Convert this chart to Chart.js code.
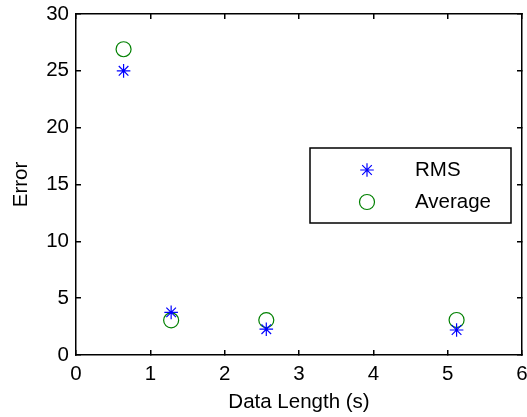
<!DOCTYPE html>
<html><head><meta charset="utf-8">
<script src="https://cdn.jsdelivr.net/npm/chart.js@4"></script>
<style>html,body{margin:0;padding:0;background:#fff}#w{width:527px;height:417px}</style>
</head><body><div id="w"><canvas id="c" width="527" height="417"></canvas></div>
<script>
const dataLength = [0.64, 1.28, 2.56, 5.12];
const rmsError = [25, 3.75, 2.27, 2.2];
const avgError = [26.9, 3.05, 3.07, 3.08];
const xTicks = [0, 1, 2, 3, 4, 5, 6];
const yTicks = [0, 5, 10, 15, 20, 25, 30];
const seriesNames = ['RMS', 'Average'];
const FONT = '"Liberation Sans", Arial, Helvetica, sans-serif';
const FS = 20.5;

const legendBox = {
  id: 'legendBox',
  afterDraw(chart) {
    const ctx = chart.ctx;
    ctx.save();
    const lx = 310, ly = 148, lw = 201, lh = 75;
    ctx.fillStyle = '#ffffff';
    ctx.fillRect(lx, ly, lw, lh);
    ctx.strokeStyle = '#000000';
    ctx.lineWidth = 1.5;
    ctx.strokeRect(lx, ly, lw, lh);
    ctx.font = FS + 'px ' + FONT;
    ctx.textBaseline = 'middle';
    ctx.textAlign = 'left';
    chart.data.datasets.forEach((ds, i) => {
      const cy = 170 + i * 32;
      ctx.save();
      ctx.fillStyle = 'rgba(0,0,0,0)';
      ctx.strokeStyle = ds.borderColor;
      ctx.lineWidth = ds.pointBorderWidth;
      Chart.helpers.drawPoint(ctx, {pointStyle: ds.pointStyle, radius: ds.pointRadius, borderWidth: ds.pointBorderWidth, rotation: 0}, 367, cy);
      ctx.restore();
      ctx.fillStyle = '#000000';
      ctx.fillText(seriesNames[i], 415, cy);
    });
    ctx.restore();
  }
};

const inwardGrid = {display: true, drawOnChartArea: false, drawTicks: true, tickLength: -5, color: '#000', lineWidth: 1.5};
const blackBorder = {display: true, color: '#000', width: 1.5};

new Chart(document.getElementById('c'), {
  type: 'scatter',
  data: {
    datasets: [
      {label: seriesNames[0], data: dataLength.map((v, i) => ({x: v, y: rmsError[i]})),
       pointStyle: 'star', pointRadius: 6.8, pointBorderWidth: 1.2, borderColor: '#0000ff', backgroundColor: 'rgba(0,0,0,0)'},
      {label: seriesNames[1], data: dataLength.map((v, i) => ({x: v, y: avgError[i]})),
       pointStyle: 'circle', pointRadius: 7.5, pointBorderWidth: 1.2, borderColor: '#008000', backgroundColor: 'rgba(0,0,0,0)'}
    ]
  },
  options: {
    responsive: false, animation: false, devicePixelRatio: 1,
    layout: {autoPadding: false, padding: {top: 14, right: 5, left: 0, bottom: 0}},
    plugins: {legend: {display: false}, tooltip: {enabled: false}},
    scales: {
      x: {
        type: 'linear', position: 'bottom', min: 0, max: 6,
        afterBuildTicks: s => { s.ticks = xTicks.map(v => ({value: v})); },
        afterFit: s => { s.height = 62; s.paddingLeft = 0; s.paddingRight = 0; },
        grid: inwardGrid, border: blackBorder,
        ticks: {color: '#000', font: {family: FONT, size: FS}, padding: 12, maxRotation: 0},
        title: {display: true, text: 'Data Length (s)', color: '#000', font: {family: FONT, size: FS}, padding: {top: 0, bottom: 2}}
      },
      x2: {
        type: 'linear', position: 'top', min: 0, max: 6,
        afterBuildTicks: s => { s.ticks = xTicks.map(v => ({value: v})); },
        afterFit: s => { s.height = 0; s.paddingLeft = 0; s.paddingRight = 0; },
        grid: inwardGrid, border: blackBorder,
        ticks: {display: false}
      },
      y: {
        type: 'linear', position: 'left', min: 0, max: 30,
        afterBuildTicks: s => { s.ticks = yTicks.map(v => ({value: v})); },
        afterFit: s => { s.width = 76; s.paddingTop = 0; s.paddingBottom = 0; },
        grid: inwardGrid, border: blackBorder,
        ticks: {color: '#000', font: {family: FONT, size: FS}, padding: 12},
        title: {display: true, text: 'Error', color: '#000', font: {family: FONT, size: FS}, padding: {top: 9, bottom: 0}}
      },
      y2: {
        type: 'linear', position: 'right', min: 0, max: 30,
        afterBuildTicks: s => { s.ticks = yTicks.map(v => ({value: v})); },
        afterFit: s => { s.width = 0; s.paddingTop = 0; s.paddingBottom = 0; },
        grid: inwardGrid, border: blackBorder,
        ticks: {display: false}
      }
    }
  },
  plugins: [legendBox]
});
</script></body></html>
